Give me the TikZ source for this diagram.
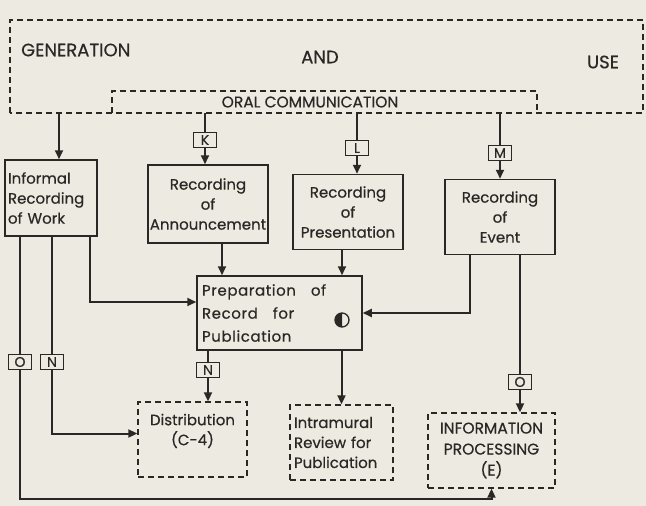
\documentclass[tikz,border=0pt]{standalone}
\usepackage{fontspec}
\setmainfont{Poppins}[FakeBold=0.5]
\usetikzlibrary{arrows.meta}

\definecolor{paper}{RGB}{236,234,225}
\definecolor{ink}{RGB}{42,40,37}

\tikzset{
  box/.style={draw=ink, line width=1.5pt, inner sep=3pt, text=ink,
    font=\fontsize{15}{20}\selectfont},
  dbox/.style={box, line width=1.4pt, dash pattern=on 6pt off 4pt},
  tag/.style={draw=ink, fill=paper, line width=1.3pt, text=ink, inner sep=0pt,
    minimum width=23pt, minimum height=15pt, font=\fontsize{14}{14}\selectfont},
  bandtext/.style={text=ink, inner sep=1pt, font=\fontsize{18}{18}\selectfont},
  wire/.style={draw=ink, line width=2pt},
  band/.style={draw=ink, line width=1.4pt, dash pattern=on 6pt off 4pt}
}

\begin{document}
\begin{tikzpicture}[x=1pt,y=-1pt,>={Triangle[length=9pt,width=8pt]}]
\fill[paper] (0,0) rectangle (646,506);
\useasboundingbox (0,0) rectangle (646,506);

% generation and use / oral communication
\draw[band] (10,113) -- (10,20) -- (643,20) -- (643,113) -- cycle;
\draw[band] (112,113) -- (112,91) -- (537,91) -- (537,113);
\node[bandtext, anchor=west] (gen) at (20,50) {GENERATION};
\node[bandtext] (and) at (320,57) {AND};
\node[bandtext] (use) at (603,62) {USE};
\node[bandtext, font=\fontsize{15.5}{16}\selectfont] (oral) at (310,102) {ORAL COMMUNICATION};
\coordinate (u1) at (59,113);
\coordinate (u2) at (205,113);
\coordinate (u3) at (357,113);
\coordinate (u4) at (500,113);
\coordinate (floor) at (0,499);

% recording
\node[box, minimum width=92pt, minimum height=76pt, text width=86pt, align=left, inner sep=2pt] (inf) at (51,198) {Informal\\Recording\\of Work};
\node[box, minimum width=120pt, minimum height=78pt, align=center, inner sep=1pt] (ann) at (208,204) {Recording\\of\\Announcement};
\node[box, minimum width=110pt, minimum height=75pt, align=center] (pres) at (348,212) {Recording\\of\\Presentation};
\node[box, minimum width=110pt, minimum height=75pt, align=center] (evt) at (500,217) {Recording\\of\\Event};
\node[box, minimum width=165pt, minimum height=74pt, text width=155pt, align=left,
  font=\fontsize{15}{23}\selectfont\addfontfeature{LetterSpace=4}] (prep) at (279.5,313) {Preparation\quad of\\Record\quad for\\Publication};
\fill[ink] (342,320) ++(0,-7) arc[start angle=-90, end angle=-270, radius=7] -- cycle;
\draw[ink, line width=1.3pt] (342,320) circle[radius=7];

% outputs
\node[dbox, minimum width=109pt, minimum height=75pt, align=center] (dist) at (192.5,439.5) {Distribution\\(C-4)\\\mbox{}};
\node[dbox, minimum width=103pt, minimum height=75pt, text width=95pt, align=left, inner sep=2pt] (intra) at (341.5,442.5) {Intramural\\Review for\\Publication};
\node[dbox, minimum width=127pt, minimum height=75pt, align=center, inner sep=1pt,
  font=\fontsize{15.5}{21}\selectfont] (info) at (491.5,450.5) {INFORMATION\\PROCESSING\\(E)};

% tags
\node[tag] (tK) at (205,140) {K};
\node[tag] (tL) at (357,148) {L};
\node[tag] (tM) at (500,153) {M};
\node[tag] (tO1) at (20,362) {O};
\node[tag] (tN1) at (52,362) {N};
\node[tag] (tN2) at (208,370) {N};
\node[tag] (tO2) at (520,382) {O};

\path ([xshift=14pt]ann.south) coordinate (a1)
      ([xshift=-6pt]pres.south) coordinate (p1)
      ([xshift=39pt]inf.south) coordinate (i3)
      ([yshift=11pt]prep.west) coordinate (pw)
      ([xshift=-30pt]evt.south) coordinate (e1)
      ([yshift=6pt]dist.west) coordinate (dw);

\draw[wire,->] (u1) -- (u1 |- inf.north);
\draw[wire] (u2) -- (tK.north);
\draw[wire,->] (tK.south) -- (tK |- ann.north);
\draw[wire] (u3) -- (tL.north);
\draw[wire,->] (tL.south) -- (tL |- pres.north);
\draw[wire] (u4) -- (tM.north);
\draw[wire,->] (tM.south) -- (tM |- evt.north);

\draw[wire,->] (a1) -- (a1 |- prep.north);
\draw[wire,->] (p1) -- (p1 |- prep.north);
\draw[wire,->] (i3) |- (pw);
\draw[wire,->] (e1) |- (prep.east);

\draw[wire] (tO2 |- evt.south) -- (tO2.north);
\draw[wire,->] (tO2.south) -- (tO2 |- info.north);
\draw[wire] (tN1 |- inf.south) -- (tN1.north);
\draw[wire,->] (tN1.south) |- (dw);
\draw[wire] (tO1 |- inf.south) -- (tO1.north);
\draw[wire,->] (tO1.south) -- (tO1 |- floor) -| (info.south);
\draw[wire] (tN2 |- prep.south) -- (tN2.north);
\draw[wire,->] (tN2.south) -- (tN2 |- dist.north);
\draw[wire,->] (intra.north |- prep.south) -- (intra.north);
\end{tikzpicture}
\end{document}
